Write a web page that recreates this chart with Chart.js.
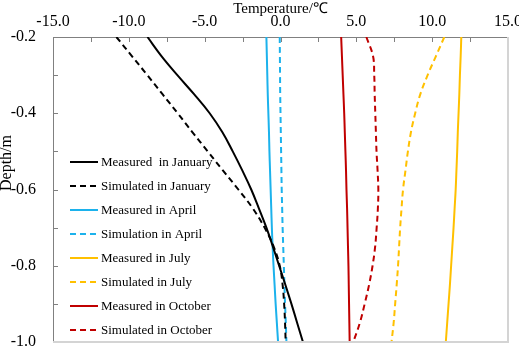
<!DOCTYPE html>
<html>
<head>
<meta charset="utf-8">
<script src="https://cdn.jsdelivr.net/npm/chart.js@4.4.0/dist/chart.umd.min.js"></script>
<style>
  html, body { margin: 0; padding: 0; background: #fff; overflow: hidden; }
</style>
</head>
<body>
<canvas id="depthChart" width="519" height="348"></canvas>
<script>
// depth (m) shared by every profile
const depths = [-0.2, -0.25, -0.3, -0.35, -0.4, -0.45, -0.5, -0.55, -0.6, -0.65, -0.7, -0.75, -0.8, -0.85, -0.9, -0.95, -1.0];

// temperature (°C) at each depth
const janMeasured  = [-8.77, -7.85, -6.8, -5.7, -4.67, -3.83, -3.15, -2.52, -1.93, -1.42, -0.93, -0.5, -0.09, 0.32, 0.72, 1.1, 1.48];
const janSimulated = [-10.82, -9.8, -8.78, -7.78, -6.78, -5.8, -4.8, -3.8, -2.78, -1.82, -1.05, -0.45, -0.05, 0.14, 0.24, 0.3, 0.34];
const aprMeasured  = [-0.93, -0.9, -0.87, -0.84, -0.8, -0.76, -0.73, -0.69, -0.65, -0.61, -0.57, -0.52, -0.46, -0.39, -0.32, -0.24, -0.16];
const aprSimulated = [-0.05, -0.04, -0.03, -0.02, 0.0, 0.02, 0.04, 0.06, 0.08, 0.11, 0.14, 0.18, 0.22, 0.26, 0.3, 0.35, 0.39];
const julMeasured  = [11.92, 11.88, 11.83, 11.79, 11.74, 11.69, 11.65, 11.6, 11.55, 11.48, 11.41, 11.33, 11.25, 11.17, 11.08, 10.99, 10.9];
const julSimulated = [10.8, 10.25, 9.7, 9.22, 8.88, 8.6, 8.4, 8.24, 8.08, 7.98, 7.89, 7.82, 7.75, 7.66, 7.56, 7.46, 7.32];
const octMeasured  = [4.0, 4.05, 4.1, 4.15, 4.2, 4.24, 4.28, 4.32, 4.35, 4.39, 4.42, 4.45, 4.48, 4.5, 4.52, 4.54, 4.56];
const octSimulated = [5.66, 6.1, 6.18, 6.21, 6.25, 6.29, 6.33, 6.4, 6.45, 6.42, 6.34, 6.24, 6.07, 5.84, 5.55, 5.23, 4.8];

const seriesLabels = ['Measured  in January', 'Simulated in January', 'Measured in April', 'Simulation in April',
                      'Measured in July', 'Simulated in July', 'Measured in October', 'Simulated in October'];
const seriesValues = [janMeasured, janSimulated, aprMeasured, aprSimulated, julMeasured, julSimulated, octMeasured, octSimulated];
const seriesColors = ['#000000', '#000000', '#1cb2ec', '#1cb2ec', '#ffc000', '#ffc000', '#c00000', '#c00000'];

const xTicks = { min: -15, max: 15, step: 5, minor: 2.5 };
const yTicks = { min: -1.0, max: -0.2, step: 0.2, minor: 0.1 };

const serif = "'Liberation Serif', 'Times New Roman', serif";

function toPoints(values) {
    return values.map((t, i) => ({ x: t, y: depths[i] }));
}

const datasets = seriesValues.map((values, i) => ({
    label: seriesLabels[i],
    data: toPoints(values),
    borderColor: seriesColors[i],
    borderWidth: 2,
    borderDash: i % 2 === 1 ? [6, 4] : [],
    pointRadius: 0,
    tension: 0.4,
    fill: false
}));

// inward ticks, light right/bottom frame, legend inside plot, rotated y title
const decorPlugin = {
    id: 'decor',
    afterDraw(chart) {
        const { ctx, chartArea, scales } = chart;
        ctx.save();

        ctx.strokeStyle = '#d4d4d4';
        ctx.lineWidth = 2;
        ctx.beginPath();
        ctx.moveTo(chartArea.right, chartArea.top);
        ctx.lineTo(chartArea.right, chartArea.bottom);
        ctx.lineTo(chartArea.left, chartArea.bottom);
        ctx.stroke();

        ctx.strokeStyle = '#808080';
        ctx.lineWidth = 1;
        ctx.beginPath();
        for (let t = xTicks.min + xTicks.minor; t < xTicks.max; t += xTicks.minor) {
            const x = Math.round(scales.x.getPixelForValue(t)) + 0.5;
            ctx.moveTo(x, chartArea.top);
            ctx.lineTo(x, chartArea.top + 5);
        }
        for (let d = yTicks.min + yTicks.minor; d < yTicks.max - 0.01; d += yTicks.minor) {
            const y = Math.round(scales.y.getPixelForValue(d)) + 0.5;
            ctx.moveTo(chartArea.left, y);
            ctx.lineTo(chartArea.left + 5, y);
        }
        ctx.stroke();

        // legend
        ctx.font = '13px ' + serif;
        ctx.textBaseline = 'middle';
        ctx.textAlign = 'left';
        const lx = chartArea.left + 17;
        let ly = chartArea.top + 125;
        chart.data.datasets.forEach(ds => {
            ctx.strokeStyle = ds.borderColor;
            ctx.lineWidth = 2;
            ctx.setLineDash(ds.borderDash.length ? [6, 4] : []);
            ctx.beginPath();
            ctx.moveTo(lx, ly);
            ctx.lineTo(lx + 28, ly);
            ctx.stroke();
            ctx.setLineDash([]);
            ctx.fillStyle = '#000';
            ctx.fillText(ds.label, lx + 31, ly + 1);
            ly += 24;
        });

        // y axis title
        ctx.translate(7, chartArea.top + 126);
        ctx.rotate(-Math.PI / 2);
        ctx.textAlign = 'center';
        ctx.font = '16px ' + serif;
        ctx.fillText('Depth/m', 0, 0);

        ctx.restore();
    }
};

new Chart(document.getElementById('depthChart').getContext('2d'), {
    type: 'line',
    data: { datasets: datasets },
    options: {
        responsive: false,
        animation: false,
        layout: { padding: { top: 0, right: 11, bottom: 6, left: 0 } },
        plugins: { legend: { display: false }, tooltip: { enabled: false } },
        scales: {
            x: {
                type: 'linear',
                position: 'top',
                min: xTicks.min,
                max: xTicks.max,
                grid: { display: false, drawTicks: false },
                border: { display: true, color: '#808080', width: 1 },
                ticks: {
                    stepSize: xTicks.step,
                    padding: 6,
                    color: '#000',
                    font: { family: serif, size: 16 },
                    callback: v => v.toFixed(1)
                },
                title: {
                    display: true,
                    text: 'Temperature/℃',
                    color: '#000',
                    font: { family: serif, size: 15 },
                    padding: { top: 0, bottom: 0 }
                },
                afterFit(scale) {
                    scale.height = 37;
                    scale.paddingLeft = 0;
                    scale.paddingRight = 0;
                }
            },
            y: {
                type: 'linear',
                min: yTicks.min,
                max: yTicks.max,
                grid: { display: false, drawTicks: false },
                border: { display: true, color: '#808080', width: 1 },
                ticks: {
                    stepSize: yTicks.step,
                    padding: 17,
                    color: '#000',
                    font: { family: serif, size: 16 },
                    callback: v => v.toFixed(1)
                },
                afterFit(scale) {
                    scale.width = 53;
                    scale.paddingTop = 0;
                    scale.paddingBottom = 0;
                }
            }
        }
    },
    plugins: [decorPlugin]
});
</script>
</body>
</html>
